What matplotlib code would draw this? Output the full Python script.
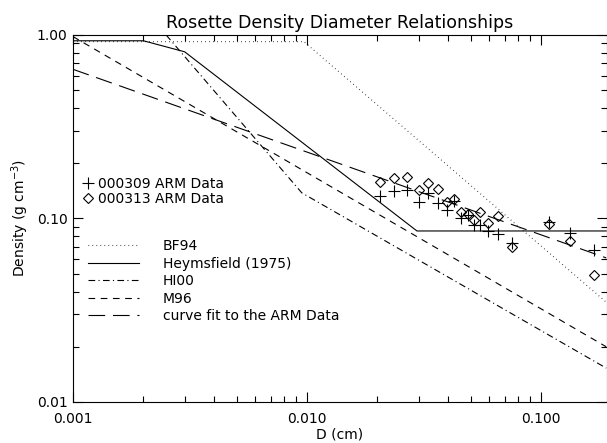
#--
#-- ROSETTE DENSITY VS. MAXIMUM DIAMETER, LOG-LOG PLOT
#--
import numpy as np
import matplotlib.pyplot as plt
from matplotlib.ticker import FixedLocator, NullFormatter
#--
#-- ARM OBSERVATIONS (D in cm, density in g cm^-3):
d_000309 = [0.0205, 0.0236, 0.0267, 0.0301, 0.0330, 0.0363, 0.0395, 0.0423, 0.0454,
            0.0489, 0.0518, 0.0548, 0.0595, 0.0658, 0.0751, 0.108, 0.133, 0.168]
rho_000309 = [0.133, 0.141, 0.143, 0.123, 0.138, 0.121, 0.111, 0.124, 0.100,
              0.105, 0.092, 0.092, 0.0855, 0.0823, 0.0733, 0.096, 0.083, 0.0673]
d_000313 = [0.0205, 0.0236, 0.0267, 0.0301, 0.0330, 0.0363, 0.0395, 0.0423, 0.0454,
            0.0489, 0.0518, 0.0548, 0.0595, 0.0658, 0.0751, 0.108, 0.133, 0.168]
rho_000313 = [0.159, 0.166, 0.169, 0.143, 0.157, 0.145, 0.123, 0.127, 0.109,
              0.106, 0.098, 0.108, 0.095, 0.103, 0.070, 0.093, 0.0757, 0.049]
#--
#-- PARAMETERIZATIONS (vertices of the piecewise power laws):
d_bf94 = [0.001, 0.0097, 0.19]
rho_bf94 = [0.92, 0.92, 0.035]
d_h75 = [0.001, 0.002, 0.003, 0.0295, 0.19]
rho_h75 = [0.93, 0.93, 0.81, 0.0855, 0.0855]
d_hi00 = [0.0025, 0.0095, 0.19]
rho_hi00 = [1.0, 0.138, 0.0153]
d_m96 = [0.001, 0.19]
rho_m96 = [0.98, 0.020]
d_fit = [0.001, 0.19]
rho_fit = [0.65, 0.061]
#--
#-- AXIS TICKS:
x_ticks = [0.001, 0.01, 0.1]
x_labels = ['0.001', '0.010', '0.100']
y_ticks = [0.01, 0.1, 1.0]
y_labels = ['0.01', '0.10', '1.00']
#--
plt.rcParams['font.family'] = 'DejaVu Sans'
plt.rcParams['font.size'] = 10
#--
fig = plt.figure(figsize=(6.07, 4.43), dpi=100)
ax = fig.add_axes([0.1203, 0.0926, 0.8797, 0.8284])
#--
lw = 0.8
ax.plot(d_bf94, rho_bf94, color='k', lw=lw, ls=(0, (0.6, 3.0)), label='BF94')
ax.plot(d_h75, rho_h75, color='k', lw=lw, ls='-', label='Heymsfield (1975)')
ax.plot(d_hi00, rho_hi00, color='k', lw=lw, ls=(0, (6, 3, 1, 3)), label='HI00')
ax.plot(d_m96, rho_m96, color='k', lw=lw, ls=(0, (6, 5)), label='M96')
ax.plot(d_fit, rho_fit, color='k', lw=lw, ls=(0, (15, 7)), label='curve fit to the ARM Data')
#--
p1, = ax.plot(d_000309, rho_000309, ls='none', marker='+', ms=8, mew=0.8, color='k')
p2, = ax.plot(d_000313, rho_000313, ls='none', marker='D', ms=5.5, mew=0.8,
              mfc='none', mec='k')
#--
ax.set_xscale('log')
ax.set_yscale('log')
ax.set_xlim(0.001, 0.1915)
ax.set_ylim(0.01, 1.0)
#--
ax.xaxis.set_major_locator(FixedLocator(x_ticks))
ax.set_xticklabels(x_labels)
ax.yaxis.set_major_locator(FixedLocator(y_ticks))
ax.set_yticklabels(y_labels)
ax.xaxis.set_minor_formatter(NullFormatter())
ax.yaxis.set_minor_formatter(NullFormatter())
ax.tick_params(which='both', direction='in', top=True, right=True, width=0.8)
ax.tick_params(which='major', length=7)
ax.tick_params(which='minor', length=4)
ax.tick_params(axis='x', which='major', pad=7)
ax.tick_params(axis='y', which='major', pad=4)
for s in ax.spines.values():
    s.set_linewidth(0.8)
#--
ax.set_title('Rosette Density Diameter Relationships', fontsize=12.5, pad=5)
ax.set_xlabel('D (cm)', labelpad=1)
ax.set_ylabel('Density (g cm$^{-3}$)', labelpad=4)
#--
#-- TWO LEGENDS: DATA MARKERS AND CURVES
leg1 = ax.legend([p1, p2], ['000309 ARM Data', '000313 ARM Data'], loc='upper left',
                 bbox_to_anchor=(0.0, 0.64), frameon=False, handlelength=0.8,
                 handletextpad=0.3, labelspacing=0.1, borderaxespad=0.3)
ax.add_artist(leg1)
ax.legend(loc='upper left', bbox_to_anchor=(0.01, 0.47), frameon=False,
          handlelength=3.7, handletextpad=1.7, labelspacing=0.25, borderaxespad=0.3)
#--
fig.savefig('out.png', dpi=100)
